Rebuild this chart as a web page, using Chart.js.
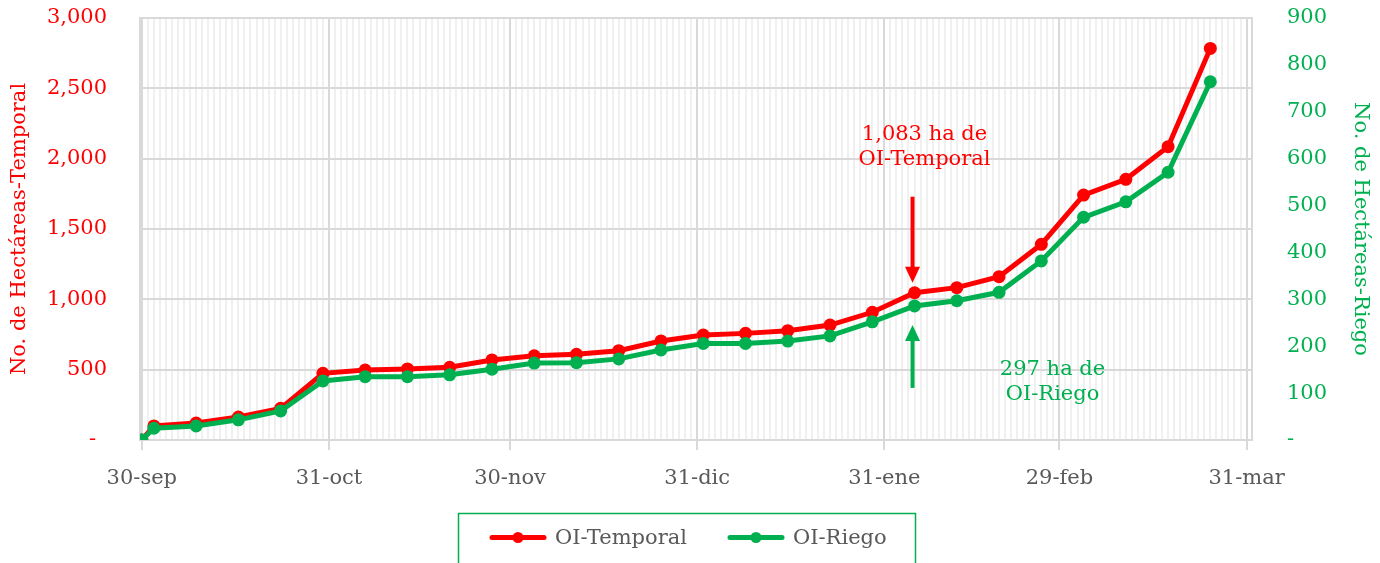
<!DOCTYPE html>
<html>
<head>
<meta charset="utf-8">
<script src="https://cdn.jsdelivr.net/npm/chart.js@4"></script>
<style>
  html, body { margin: 0; padding: 0; background: #fff; }
  #wrap { width: 1380px; height: 563px; position: relative; }
</style>
</head>
<body>
<div id="wrap"><canvas id="chart"></canvas></div>
<script>
// weekly cut-off dates
const dates = ['2023-09-30', '2023-10-02', '2023-10-09', '2023-10-16', '2023-10-23', '2023-10-30',
    '2023-11-06', '2023-11-13', '2023-11-20', '2023-11-27', '2023-12-04', '2023-12-11', '2023-12-18',
    '2023-12-25', '2024-01-01', '2024-01-08', '2024-01-15', '2024-01-22', '2024-01-29', '2024-02-05',
    '2024-02-12', '2024-02-19', '2024-02-26', '2024-03-04', '2024-03-11', '2024-03-18', '2024-03-25'];
const temporal = [0, 100, 121, 163, 225, 474, 497, 505, 517, 569, 599, 609, 635, 704, 746, 758, 777,
    817, 908, 1047, 1083, 1161, 1391, 1741, 1853, 2085, 2784];
const riego = [0, 25, 30, 43, 62, 126, 135, 135, 139, 151, 164, 165, 173, 192, 206, 206, 211,
    222, 252, 286, 297, 315, 382, 475, 508, 571, 764];
const monthDates = ['2023-09-30', '2023-10-31', '2023-11-30', '2023-12-31', '2024-01-31', '2024-02-29', '2024-03-31'];
const monthLabels = ['30-sep', '31-oct', '30-nov', '31-dic', '31-ene', '29-feb', '31-mar'];
const noteDate = '2024-02-05';
const noteTemporal = ['1,083 ha de', 'OI-Temporal'];
const noteRiego = ['297 ha de', 'OI-Riego'];

const RED = '#FF0000';
const GREEN = '#00B050';
const GREY = '#595959';
const FONT = '"DejaVu Serif", serif';
const CLEAR = 'rgba(0,0,0,0)';

const dayOf = (s) => {
    const [y, m, d] = s.split('-').map(Number);
    return Math.round((Date.UTC(y, m - 1, d) - Date.UTC(2023, 8, 30)) / 86400000);
};
const monthDays = monthDates.map(dayOf);
const lastDay = monthDays[monthDays.length - 1];

const fmt = (v) => v === 0 ? '-' : v.toLocaleString('en-US');

// annotations: arrows and texts next to the Feb-5 points
const notesPlugin = {
    id: 'notes',
    afterDatasetsDraw(chart) {
        const {ctx, scales} = chart;
        const x = scales.x.getPixelForValue(dayOf(noteDate)) - 2;
        const i = dates.indexOf(noteDate);
        const yR = scales.y.getPixelForValue(temporal[i]);
        const yG = scales.y1.getPixelForValue(riego[i]);
        ctx.save();
        // red arrow down
        ctx.strokeStyle = RED; ctx.fillStyle = RED; ctx.lineWidth = 4;
        ctx.beginPath(); ctx.moveTo(x, yR - 96); ctx.lineTo(x, yR - 24); ctx.stroke();
        ctx.beginPath(); ctx.moveTo(x - 7.5, yR - 26); ctx.lineTo(x + 7.5, yR - 26); ctx.lineTo(x, yR - 10); ctx.closePath(); ctx.fill();
        // green arrow up
        ctx.strokeStyle = GREEN; ctx.fillStyle = GREEN;
        ctx.beginPath(); ctx.moveTo(x, yG + 82); ctx.lineTo(x, yG + 32); ctx.stroke();
        ctx.beginPath(); ctx.moveTo(x - 7.5, yG + 35); ctx.lineTo(x + 7.5, yG + 35); ctx.lineTo(x, yG + 19); ctx.closePath(); ctx.fill();
        // texts
        ctx.font = '21px ' + FONT;
        ctx.textAlign = 'center'; ctx.textBaseline = 'middle';
        ctx.fillStyle = RED;
        ctx.fillText(noteTemporal[0], x + 12, yR - 158);
        ctx.fillText(noteTemporal[1], x + 12, yR - 133);
        ctx.fillStyle = GREEN;
        ctx.fillText(noteRiego[0], x + 140, yG + 64);
        ctx.fillText(noteRiego[1], x + 140, yG + 89);
        ctx.restore();
    }
};

// legend box at the bottom
const legendPlugin = {
    id: 'boxLegend',
    afterDraw(chart) {
        const {ctx} = chart;
        ctx.save();
        ctx.strokeStyle = GREEN; ctx.lineWidth = 1.5;
        ctx.strokeRect(458.5, 513.5, 457, 60);
        const items = [
            {label: 'OI-Temporal', color: RED, x: 490},
            {label: 'OI-Riego', color: GREEN, x: 728}
        ];
        const y = 537.5;
        ctx.font = '21px ' + FONT;
        ctx.textBaseline = 'middle'; ctx.textAlign = 'left';
        items.forEach(it => {
            ctx.strokeStyle = it.color; ctx.fillStyle = it.color;
            ctx.lineWidth = 5; ctx.lineCap = 'round';
            ctx.beginPath(); ctx.moveTo(it.x + 2, y); ctx.lineTo(it.x + 54, y); ctx.stroke();
            ctx.beginPath(); ctx.arc(it.x + 28, y, 5.5, 0, Math.PI * 2); ctx.fill();
            ctx.fillStyle = GREY;
            ctx.fillText(it.label, it.x + 65, y + 1);
        });
        ctx.restore();
    }
};

const xs = dates.map(dayOf);

new Chart(document.getElementById('chart'), {
    type: 'line',
    data: {
        datasets: [{
            label: 'OI-Temporal',
            data: xs.map((d, i) => ({x: d, y: temporal[i]})),
            yAxisID: 'y',
            borderColor: RED,
            backgroundColor: RED,
            borderWidth: 5,
            pointRadius: 6.5,
            pointBorderWidth: 0,
            tension: 0,
            order: 1
        }, {
            label: 'OI-Riego',
            data: xs.map((d, i) => ({x: d, y: riego[i]})),
            yAxisID: 'y1',
            borderColor: GREEN,
            backgroundColor: GREEN,
            borderWidth: 5,
            pointRadius: 6.5,
            pointBorderWidth: 0,
            tension: 0,
            order: 0
        }]
    },
    options: {
        responsive: true,
        maintainAspectRatio: false,
        animation: false,
        devicePixelRatio: 1,
        layout: {padding: {top: 18, bottom: 0, left: 0, right: 0}},
        plugins: {
            legend: {display: false},
            tooltip: {enabled: false}
        },
        scales: {
            x: {
                type: 'linear',
                min: -0.3,
                max: lastDay + 0.9,
                afterBuildTicks: (scale) => {
                    scale.ticks = Array.from({length: lastDay + 1}, (_, d) => ({value: d}));
                },
                afterFit: (scale) => { scale.height = 123; },
                grid: {
                    color: (c) => monthDays.includes(c.tick && c.tick.value) ? '#d9d9d9' : '#f0f0f0',
                    lineWidth: 2,
                    tickColor: (c) => monthDays.includes(c.tick && c.tick.value) ? '#d9d9d9' : CLEAR,
                    tickLength: 10
                },
                border: {color: '#d9d9d9', width: 2},
                ticks: {
                    autoSkip: false,
                    maxRotation: 0,
                    padding: 16,
                    color: GREY,
                    font: {family: FONT, size: 21},
                    callback: (v) => {
                        const k = monthDays.indexOf(v);
                        return k >= 0 ? monthLabels[k] : '';
                    }
                }
            },
            y: {
                position: 'left',
                min: 0,
                max: 3000,
                afterFit: (scale) => { scale.width = 140; },
                grid: {color: '#d9d9d9', lineWidth: 2, tickColor: CLEAR, tickLength: 30},
                border: {color: '#d9d9d9', width: 2},
                ticks: {
                    stepSize: 500,
                    padding: 3,
                    color: RED,
                    font: {family: FONT, size: 21},
                    callback: (v) => v === 0 ? '- \u2009' : fmt(v)
                },
                title: {
                    display: true,
                    text: 'No. de Hectáreas-Temporal',
                    color: RED,
                    font: {family: FONT, size: 21},
                    padding: {top: 7, bottom: 0}
                }
            },
            y1: {
                position: 'right',
                min: 0,
                max: 900,
                afterFit: (scale) => { scale.width = 128; },
                grid: {drawOnChartArea: false, tickColor: CLEAR, tickLength: 32},
                border: {color: '#d9d9d9', width: 2},
                ticks: {
                    stepSize: 100,
                    padding: 3,
                    color: GREEN,
                    font: {family: FONT, size: 21},
                    callback: (v) => fmt(v)
                },
                title: {
                    display: true,
                    text: 'No. de Hectáreas-Riego',
                    color: GREEN,
                    font: {family: FONT, size: 21},
                    padding: {top: 7, bottom: 0}
                }
            }
        }
    },
    plugins: [notesPlugin, legendPlugin]
});
</script>
</body>
</html>
